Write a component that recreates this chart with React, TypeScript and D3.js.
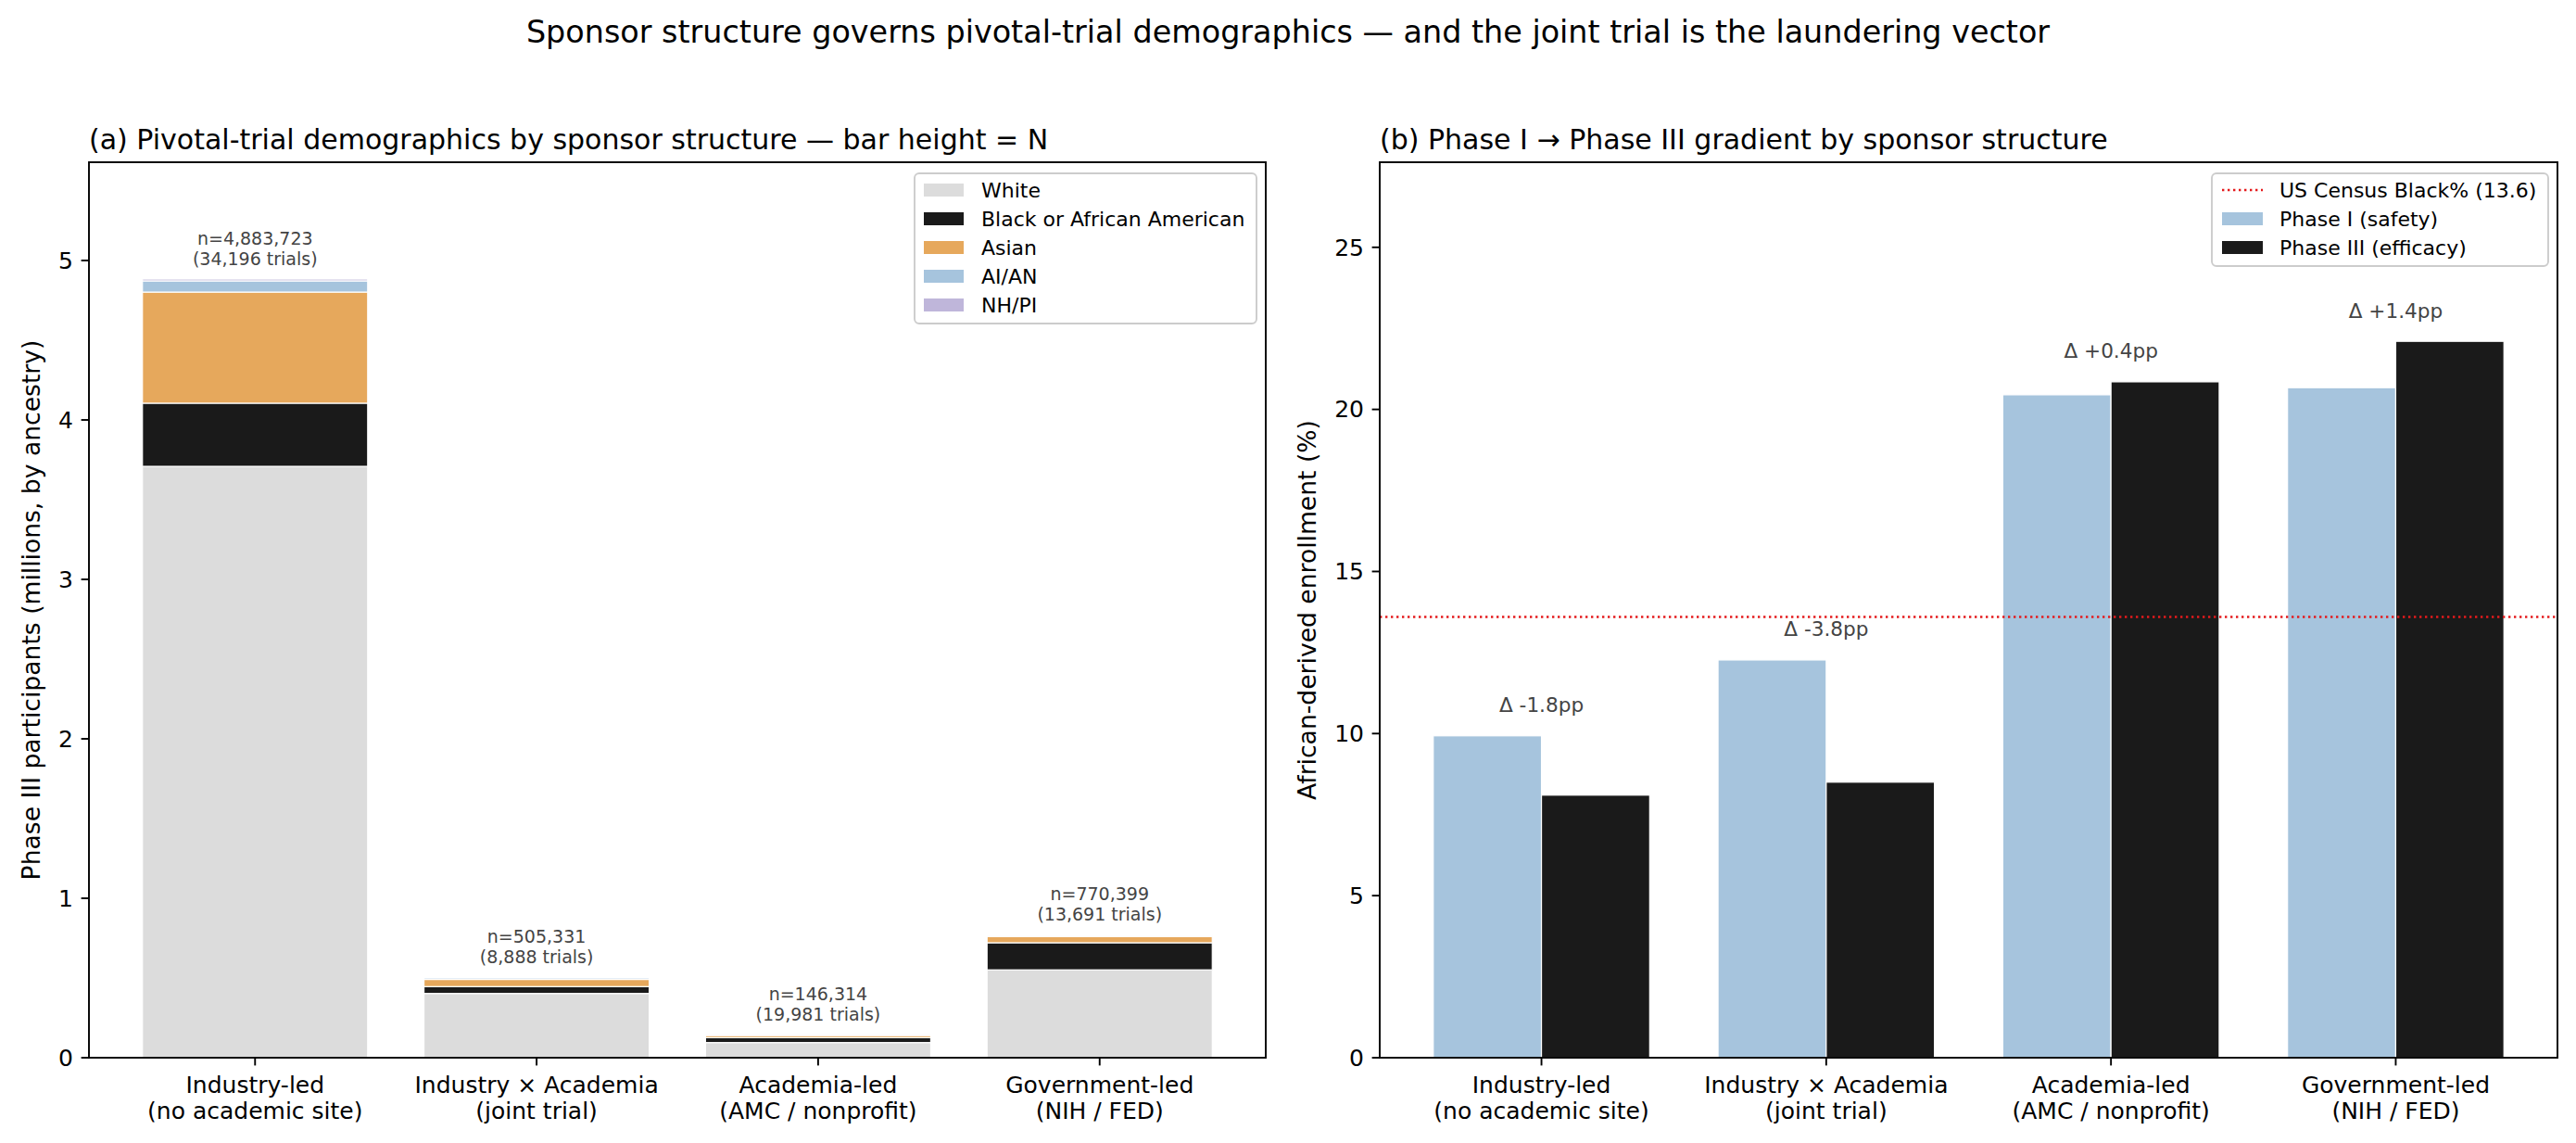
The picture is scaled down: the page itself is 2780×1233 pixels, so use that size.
import React from "react";
import * as d3 from "d3";

// sponsor categories (two-line tick labels)
const sponsors = [
  ["Industry-led", "(no academic site)"],
  ["Industry × Academia", "(joint trial)"],
  ["Academia-led", "(AMC / nonprofit)"],
  ["Government-led", "(NIH / FED)"],
];

// panel (a): Phase III participants by ancestry
const ancestryGroups = ["White", "Black or African American", "Asian", "AI/AN", "NH/PI"];
const white = [3709000, 403000, 95000, 551000];
const black = [396000, 43000, 30500, 170000];
const asian = [697000, 45000, 14000, 39000];
const aian = [70000, 10000, 4500, 7000];
const nhpi = [11723, 4331, 2314, 3399];
const totalN = [4883723, 505331, 146314, 770399];
const trialCounts = [34196, 8888, 19981, 13691];
const ancestryColors = ["#dcdcdc", "#1a1a1a", "#e6a85c", "#a6c4dd", "#bfb6da"];

// panel (b): African-derived enrollment, % of participants
const phase1 = [9.93, 12.27, 20.45, 20.67];
const phase3 = [8.1, 8.5, 20.85, 22.1];
const censusBlack = 13.6;

const W = 2780;
const H = 1233;
const FONT = "DejaVu Sans";

const axA = { left: 96, right: 1366, top: 175, bottom: 1141 };
const axB = { left: 1489, right: 2760, top: 175, bottom: 1141 };

const TICK_FS = 25;
const LABEL_FS = 26.6;
const TITLE_FS = 30;
const LEGEND_FS = 22;

const fmt = d3.format(",");

function XTicks({ x, ax }: { x: (v: number) => number; ax: typeof axA }) {
  return (
    <g>
      {sponsors.map((lab, i) => (
        <g key={i} transform={`translate(${x(i)},${ax.bottom})`}>
          <line y2={8.4} stroke="#000" strokeWidth={1.9} />
          <text y={38} textAnchor="middle" fontSize={TICK_FS}>
            {lab[0]}
          </text>
          <text y={66} textAnchor="middle" fontSize={TICK_FS}>
            {lab[1]}
          </text>
        </g>
      ))}
    </g>
  );
}

function YTicks({ y, ticks, ax }: { y: d3.ScaleLinear<number, number>; ticks: number[]; ax: typeof axA }) {
  return (
    <g>
      {ticks.map((t) => (
        <g key={t} transform={`translate(${ax.left},${y(t)})`}>
          <line x2={-8.4} stroke="#000" strokeWidth={1.9} />
          <text x={-17} dy="0.35em" textAnchor="end" fontSize={TICK_FS}>
            {t}
          </text>
        </g>
      ))}
    </g>
  );
}

function Frame({ ax }: { ax: typeof axA }) {
  return (
    <rect
      x={ax.left}
      y={ax.top}
      width={ax.right - ax.left}
      height={ax.bottom - ax.top}
      fill="none"
      stroke="#000"
      strokeWidth={1.9}
    />
  );
}

function PanelA() {
  const n = sponsors.length;
  const bw = 0.8;
  const pad = (n - 1 + bw) * 0.05;
  const x = d3.scaleLinear().domain([-bw / 2 - pad, n - 1 + bw / 2 + pad]).range([axA.left, axA.right]);
  const y = d3.scaleLinear().domain([0, d3.max(totalN)! * 1.15 / 1e6]).range([axA.bottom, axA.top]);

  const rows = sponsors.map((_, i) => ({
    i,
    White: white[i] / 1e6,
    "Black or African American": black[i] / 1e6,
    Asian: asian[i] / 1e6,
    "AI/AN": aian[i] / 1e6,
    "NH/PI": nhpi[i] / 1e6,
  }));
  const series = d3.stack<any>().keys(ancestryGroups)(rows);
  const half = (x(bw) - x(0)) / 2;

  return (
    <g>
      {series.map((s, k) => (
        <g key={s.key} fill={ancestryColors[k]}>
          {s.map((d, i) => (
            <rect
              key={i}
              x={x(i) - half}
              y={y(d[1])}
              width={half * 2}
              height={Math.max(0, y(d[0]) - y(d[1]))}
              stroke="#fff"
              strokeWidth={1.2}
            />
          ))}
        </g>
      ))}
      {totalN.map((v, i) => (
        <g key={i} fill="#444" fontSize={19} textAnchor="middle">
          <text x={x(i)} y={y(v / 1e6) - 37}>{`n=${fmt(v)}`}</text>
          <text x={x(i)} y={y(v / 1e6) - 15}>{`(${fmt(trialCounts[i])} trials)`}</text>
        </g>
      ))}
      <Frame ax={axA} />
      <YTicks y={y} ticks={[0, 1, 2, 3, 4, 5]} ax={axA} />
      <XTicks x={x} ax={axA} />
      <text
        transform={`translate(43,${(axA.top + axA.bottom) / 2}) rotate(-90)`}
        textAnchor="middle"
        fontSize={LABEL_FS}
      >
        Phase III participants (millions, by ancestry)
      </text>
      <text x={axA.left} y={161} fontSize={TITLE_FS}>
        (a) Pivotal-trial demographics by sponsor structure — bar height = N
      </text>
      {/* legend */}
      <g>
        <rect x={987} y={187} width={369} height={162} rx={5} fill="#fff" fillOpacity={0.8} stroke="#cccccc" strokeWidth={1.9} />
        {ancestryGroups.map((g, k) => (
          <g key={g} transform={`translate(997,${205 + k * 31})`}>
            <rect y={-7} width={43} height={14} fill={ancestryColors[k]} />
            <text x={62} dy="0.35em" fontSize={LEGEND_FS}>
              {g}
            </text>
          </g>
        ))}
      </g>
    </g>
  );
}

function PanelB() {
  const n = sponsors.length;
  const bw = 0.38;
  const pad = (n - 1 + 2 * bw) * 0.05;
  const x = d3.scaleLinear().domain([-bw - pad, n - 1 + bw + pad]).range([axB.left, axB.right]);
  const y = d3.scaleLinear().domain([0, d3.max(phase3)! * 1.25]).range([axB.bottom, axB.top]);
  const w = x(bw) - x(0);
  const phaseColors = ["#a6c4dd", "#1a1a1a"];

  return (
    <g>
      {[phase1, phase3].map((vals, s) => (
        <g key={s} fill={phaseColors[s]}>
          {vals.map((v, i) => (
            <rect
              key={i}
              x={s === 0 ? x(i) - w : x(i)}
              y={y(v)}
              width={w}
              height={y(0) - y(v)}
              stroke="#fff"
              strokeWidth={1.2}
            />
          ))}
        </g>
      ))}
      <line
        x1={axB.left}
        x2={axB.right}
        y1={y(censusBlack)}
        y2={y(censusBlack)}
        stroke="#e41a1c"
        strokeWidth={2.4}
        strokeDasharray="2.4,3.6"
      />
      {phase1.map((p1, i) => {
        const delta = phase3[i] - p1;
        const label = `Δ ${delta >= 0 ? "+" : ""}${delta.toFixed(1)}pp`;
        return (
          <text key={i} x={x(i)} y={y(Math.max(p1, phase3[i]) + 0.6) - 4.6} textAnchor="middle" fontSize={21.6} fill="#444">
            {label}
          </text>
        );
      })}
      <Frame ax={axB} />
      <YTicks y={y} ticks={[0, 5, 10, 15, 20, 25]} ax={axB} />
      <XTicks x={x} ax={axB} />
      <text
        transform={`translate(1420,${(axB.top + axB.bottom) / 2}) rotate(-90)`}
        textAnchor="middle"
        fontSize={LABEL_FS}
      >
        African-derived enrollment (%)
      </text>
      <text x={axB.left} y={161} fontSize={TITLE_FS}>
        (b) Phase I → Phase III gradient by sponsor structure
      </text>
      {/* legend */}
      <g>
        <rect x={2387} y={187} width={363} height={100} rx={5} fill="#fff" fillOpacity={0.8} stroke="#cccccc" strokeWidth={1.9} />
        <g transform="translate(2398,205)">
          <line x2={44} stroke="#e41a1c" strokeWidth={2.4} strokeDasharray="2.4,3.6" />
          <text x={62} dy="0.35em" fontSize={LEGEND_FS}>
            US Census Black% ({censusBlack})
          </text>
        </g>
        {["Phase I (safety)", "Phase III (efficacy)"].map((lab, k) => (
          <g key={lab} transform={`translate(2398,${236 + k * 31})`}>
            <rect y={-7} width={44} height={14} fill={phaseColors[k]} />
            <text x={62} dy="0.35em" fontSize={LEGEND_FS}>
              {lab}
            </text>
          </g>
        ))}
      </g>
    </g>
  );
}

export default function App() {
  return (
    <div style={{ position: "absolute", left: 0, top: 0 }}>
      <svg width={W} height={H} fontFamily={FONT} style={{ display: "block", background: "#fff" }}>
        <text x={W / 2} y={46} textAnchor="middle" fontSize={33.4}>
          Sponsor structure governs pivotal-trial demographics — and the joint trial is the laundering vector
        </text>
        <PanelA />
        <PanelB />
      </svg>
    </div>
  );
}
